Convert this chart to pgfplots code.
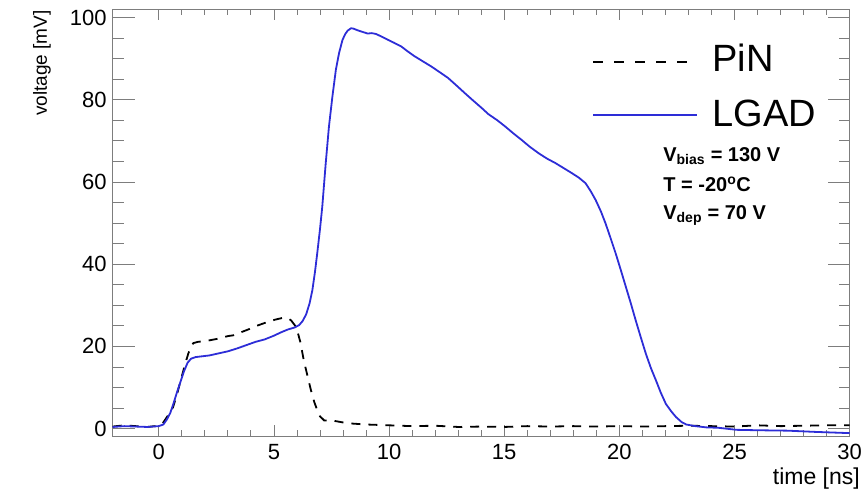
\documentclass[border=0pt]{standalone}
\usepackage{fontspec}
\setmainfont{Liberation Sans}
\usepackage{pgfplots}
\pgfplotsset{compat=1.18}

\definecolor{lgadblue}{RGB}{45,45,215}
\definecolor{framegray}{RGB}{125,125,125}

\begin{document}
\begin{tikzpicture}
\useasboundingbox (-112.7pt,-52pt) rectangle (751.3pt,436pt);
\begin{axis}[
    scale only axis,
    width=737pt, height=426.7pt,
    xmin=-2, xmax=30,
    ymin=-1.8, ymax=102,
    xtick={0,5,...,30},
    ytick={0,20,...,100},
    minor x tick num=4,
    minor y tick num=3,
    tick align=inside,
    axis line style={framegray, line width=0.9pt},
    every tick/.style={framegray, line width=0.8pt},
    xtick style={/pgfplots/major tick length=11pt, /pgfplots/minor tick length=6pt},
    ytick style={/pgfplots/major tick length=22pt, /pgfplots/minor tick length=11pt},
    /pgf/number format/assume math mode=true,
    ticklabel style={font=\fontsize{22}{26}\selectfont},
    xticklabel style={inner sep=8pt},
    yticklabel style={inner sep=6pt},
    xlabel={time [ns]},
    ylabel={voltage [mV]},
    xlabel style={font=\fontsize{23}{27}\selectfont, at={(axis description cs:1.014,-0.1125)}, anchor=base east, inner sep=0pt},
    ylabel style={font=\fontsize{19}{23}\selectfont, at={(axis description cs:-0.096,0.998)}, anchor=east, inner sep=0pt},
    clip=true,
]

% PiN
\addplot[black, line width=1.8pt, dash pattern=on 9pt off 8pt] coordinates {
    (-2,0.5) (-1.5,0.8) (-1,0.6) (-0.5,0.4) (0,0.7) (0.2,1.5) (0.4,3.2) (0.62,5.2)
    (0.8,8.5) (0.99,12.5) (1.15,15.8) (1.28,18.2) (1.4,20) (1.5,20.8) (1.7,21.1)
    (2.0,21.3) (2.23,21.5) (2.6,21.9) (3.0,22.5) (3.24,22.7) (3.6,23.5) (3.97,24.3)
    (4.3,25.1) (4.7,25.9) (5.05,26.5) (5.43,27.0) (5.6,26.9) (5.75,26.3) (5.9,25.2)
    (6.01,23.9) (6.15,21) (6.3,16.5) (6.45,13) (6.6,9.5) (6.75,6.5) (6.9,4.2)
    (7.0,3) (7.18,2.0) (7.6,1.9) (8.2,1.3) (9,1.0) (10,0.8) (11,0.6) (12,0.7)
    (13,0.4) (14,0.5) (15,0.4) (16,0.6) (17,0.5) (18,0.6) (19,0.5) (20,0.6)
    (21,0.5) (22,0.6) (23,0.7) (24,0.6) (25,0.5) (26,0.8) (27,0.6) (28,0.7)
    (29,0.8) (30,0.8)
};

% LGAD
\addplot[lgadblue, line width=1.8pt] coordinates {
    (-2,0.4) (-1.5,0.6) (-1,0.5) (-0.5,0.4) (0,0.6) (0.2,1.0) (0.35,2.2) (0.5,3.8)
    (0.65,6.3) (0.8,9) (0.95,11.5) (1.1,14) (1.25,16) (1.4,17) (1.6,17.4) (1.9,17.6)
    (2.2,17.8) (2.6,18.3) (3.0,18.8) (3.4,19.5) (3.8,20.3) (4.2,21.1) (4.6,21.7)
    (5.0,22.6) (5.3,23.4) (5.6,24.1) (5.9,24.6) (6.1,25.2) (6.25,26.2) (6.4,27.8)
    (6.55,30.5) (6.67,33.7) (6.78,38) (6.88,42.6) (7.0,48.5) (7.1,54) (7.25,64.6)
    (7.39,73.5) (7.54,80.8) (7.69,87.3) (7.83,91.4) (7.98,94.6) (8.1,96) (8.2,96.8)
    (8.35,97.4) (8.45,97.3) (8.63,96.9) (8.85,96.5) (9.07,96.1) (9.25,96.2)
    (9.43,96.0) (9.7,95.3) (9.94,94.6) (10.2,93.9) (10.52,93) (10.8,91.8)
    (11.1,90.6) (11.45,89.4) (11.83,88.1) (12.2,86.7) (12.56,85.3) (12.9,83.6)
    (13.29,81.6) (13.65,79.8) (14.02,78) (14.31,76.5) (14.7,75) (15.04,73.5)
    (15.4,71.8) (15.76,70.2) (16.1,68.6) (16.49,67) (16.85,65.7) (17.22,64.6)
    (17.6,63.3) (17.95,62.1) (18.25,61) (18.53,59.7) (18.75,57.8) (18.97,55.6)
    (19.2,52.8) (19.4,49.9) (19.62,46.3) (19.84,42.6) (20.06,38.6) (20.28,34.5)
    (20.5,30.4) (20.71,26.3) (20.93,22.2) (21.15,18.2) (21.37,14.7) (21.59,11.7)
    (21.8,8.7) (22.02,6) (22.25,4.2) (22.46,2.8) (22.7,1.6) (22.9,1.0) (23.3,0.6)
    (23.77,0.3) (24.3,0.2) (25.1,-0.3) (26,-0.4) (27.3,-0.5) (28.5,-0.8)
    (29.5,-1.0) (30,-1.1)
};

% legend
\draw[black, line width=1.8pt, dash pattern=on 10pt off 11pt] (axis cs:18.87,89.2) -- (axis cs:23.38,89.2);
\draw[lgadblue, line width=1.8pt] (axis cs:18.87,76.3) -- (axis cs:23.38,76.3);
\node[anchor=base west, inner sep=0pt, font=\fontsize{38}{44}\selectfont] at (axis cs:24.03,86.8) {PiN};
\node[anchor=base west, inner sep=0pt, font=\fontsize{38}{44}\selectfont] at (axis cs:24.03,73.4) {LGAD};

% run conditions
\node[anchor=base west, inner sep=0pt, font=\bfseries\fontsize{20}{24}\selectfont] at (axis cs:21.9,64.9) {V\textsubscript{bias} = 130 V};
\node[anchor=base west, inner sep=0pt, font=\bfseries\fontsize{20}{24}\selectfont] at (axis cs:21.9,57.6) {T = -20\textsuperscript{o}C};
\node[anchor=base west, inner sep=0pt, font=\bfseries\fontsize{20}{24}\selectfont] at (axis cs:21.9,50.8) {V\textsubscript{dep} = 70 V};

\end{axis}
\end{tikzpicture}
\end{document}
